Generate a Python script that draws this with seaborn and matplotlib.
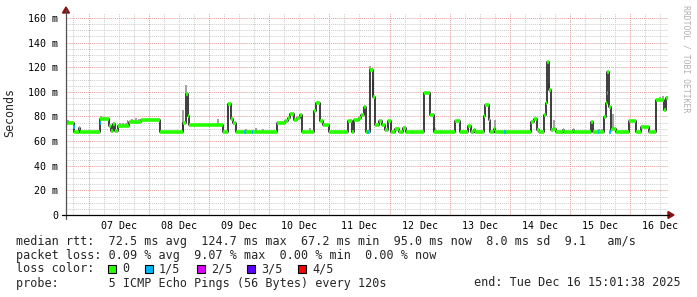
import numpy as np
import pandas as pd
import matplotlib
matplotlib.use("Agg")
import matplotlib.pyplot as plt
from matplotlib.lines import Line2D
from matplotlib.patches import Polygon, Rectangle
import seaborn as sns

# ---------------- data ----------------
# median rtt as steps: time in days since 06 Dec 00:00, value in ms
step_t = [0.626, 0.762, 0.834, 0.859, 1.188, 1.344, 1.374, 1.399, 1.433, 1.483,
          1.677, 1.865, 2.193, 2.576, 2.614, 2.647, 2.676, 3.241, 3.324, 3.371,
          3.404, 3.451, 4.128, 4.266, 4.311, 4.349, 4.406, 4.461, 4.516, 4.544,
          4.739, 4.782, 4.849, 4.894, 4.988, 5.309, 5.376, 5.414, 5.488, 5.534,
          5.571, 5.609, 5.671, 5.725, 5.764, 5.820, 5.875, 5.930, 5.970, 6.025,
          6.097, 6.153, 6.225, 6.280, 6.569, 6.669, 6.735, 7.095, 7.178, 7.306,
          7.356, 7.401, 7.423, 7.567, 7.594, 7.651, 7.677, 7.734, 7.760, 8.343,
          8.399, 8.454, 8.483, 8.566, 8.604, 8.621, 8.642, 8.676, 8.720, 8.759,
          8.887, 8.903, 9.053, 9.070, 9.341, 9.386, 9.564, 9.591, 9.619, 9.647,
          9.674, 9.702, 9.757, 9.980, 10.090, 10.173, 10.313, 10.423, 10.562, 10.589,
          10.626]
step_ms = [74.5, 67.7, 70.5, 67.7, 77.7, 72.0, 68.0, 74.0, 68.5, 72.3,
           75.8, 77.0, 67.7, 74.5, 98.5, 80.0, 73.1, 67.2, 90.0, 78.0,
           75.0, 67.7, 75.0, 76.6, 79.0, 81.8, 77.0, 79.0, 81.5, 67.7,
           84.7, 91.2, 76.0, 73.1, 67.7, 76.0, 67.7, 77.0, 78.5, 81.0,
           88.0, 67.7, 117.8, 96.0, 73.0, 76.0, 73.0, 69.0, 76.0, 67.7,
           70.0, 67.7, 71.0, 67.7, 98.8, 81.2, 67.7, 76.0, 67.7, 72.5,
           67.7, 69.0, 67.7, 80.0, 89.4, 77.2, 67.7, 70.0, 67.7, 75.9,
           77.7, 69.0, 67.7, 81.2, 90.7, 124.5, 101.5, 69.0, 70.0, 67.7,
           69.0, 67.7, 69.0, 67.7, 75.9, 67.7, 79.5, 90.7, 116.4, 88.0,
           69.0, 70.0, 67.7, 76.6, 67.7, 71.2, 67.7, 93.4, 85.3, 95.0,
           95.0]

# samples with 1/5 packet loss
loss1_t = [0.759, 1.200, 1.650, 3.600, 3.720, 5.642, 7.920, 9.476, 9.625, 9.660]
loss1_ms = [71.7, 74.5, 75.8, 67.7, 67.7, 67.7, 67.7, 67.7, 99.0, 67.7]

# smoke: spread of the individual pings (upper end)
smoke_t = [0.651, 0.684, 1.200, 1.250, 1.516, 1.566, 1.616, 1.715, 1.782, 1.832,
           2.564, 2.622, 3.146, 3.612, 3.779, 3.895, 4.677, 5.675, 5.700, 5.725,
           6.657, 6.757, 7.747, 8.646, 8.729, 9.486, 9.536, 9.711, 10.501, 10.551,
           10.617]
smoke_hi = [77.0, 76.5, 80.0, 79.5, 75.0, 75.0, 74.5, 78.0, 78.5, 78.0,
            85.0, 105.6, 77.7, 70.0, 70.5, 70.0, 70.5, 121.0, 119.0, 110.0,
            100.0, 70.5, 77.0, 107.0, 77.0, 70.0, 70.0, 82.0, 96.0, 97.0,
            97.0]

day_ticks = [1.5, 2.5, 3.5, 4.5, 5.5, 6.5, 7.5, 8.5, 9.5, 10.5]
day_labels = ["07 Dec", "08 Dec", "09 Dec", "10 Dec", "11 Dec",
              "12 Dec", "13 Dec", "14 Dec", "15 Dec", "16 Dec"]
y_ticks = [0, 20, 40, 60, 80, 100, 120, 140, 160]
y_labels = ["0", "20 m", "40 m", "60 m", "80 m", "100 m", "120 m", "140 m", "160 m"]

loss_labels = ["0", "1/5", "2/5", "3/5", "4/5"]
loss_colors = ["#26ff00", "#00b8ff", "#dd00ff", "#5e00ff", "#ff0000"]

legend_rtt = "median rtt:  72.5 ms avg  124.7 ms max  67.2 ms min  95.0 ms now  8.0 ms sd  9.1   am/s"
legend_loss = "packet loss: 0.09 % avg  9.07 % max  0.00 % min  0.00 % now"
legend_color = "loss color:"
legend_probe = "probe:       5 ICMP Echo Pings (56 Bytes) every 120s"
legend_end = "end: Tue Dec 16 15:01:38 2025"

# ---------------- figure ----------------
sns.set_theme(style="white")
plt.rcParams["font.family"] = ["DejaVu Sans Mono"]

W, H = 697, 297
fig = plt.figure(figsize=(W / 100, H / 100), dpi=100)
fig.patch.set_facecolor("white")

def fx(px):
    return px / W

def fy(py):
    return 1 - py / H

ax_l, ax_r, ax_t, ax_b = 66, 668, 13, 215
ax = fig.add_axes([fx(ax_l), fy(ax_b), (ax_r - ax_l) / W, (ax_b - ax_t) / H])
ax.set_facecolor("white")
ax.set_xlim(0.626, 10.626)
ax.set_ylim(0, 164)

# grid
for v in np.arange(5, 165, 5):
    if v % 20:
        ax.axhline(v, color="#cccccc", lw=0.7, ls=(0, (1, 1)), zorder=0)
for v in np.arange(20, 165, 20):
    ax.axhline(v, color="#e59a9a", lw=0.7, ls=(0, (1, 1)), zorder=0.5)
for d in np.arange(0.75, 10.7, 0.25):
    if abs(d - round(d)) > 1e-6:
        ax.axvline(d, color="#cccccc", lw=0.7, ls=(0, (1, 1)), zorder=0)
for d in range(1, 11):
    ax.axvline(d, color="#e59a9a", lw=0.7, ls=(0, (1, 1)), zorder=0.5)

df = pd.DataFrame({"t": step_t, "ms": step_ms})

# smoke
s_t = np.array(smoke_t)
idx = np.searchsorted(df["t"].values, s_t, side="right") - 1
s_lo = df["ms"].values[idx]
ax.vlines(s_t, s_lo, smoke_hi, colors="#9a9a9a", lw=1.3, zorder=1)

# median line (dark) through seaborn, step style
sns.lineplot(data=df, x="t", y="ms", ax=ax, color="#1e1e1e", lw=1.2,
             drawstyle="steps-post", estimator=None, sort=False, zorder=2)

# loss-coloured median segments
ax.hlines(df["ms"].values[:-1], df["t"].values[:-1], df["t"].values[1:],
          colors=loss_colors[0], lw=2.6, zorder=3)
ax.hlines(loss1_ms, np.array(loss1_t) - 0.012, np.array(loss1_t) + 0.012,
          colors=loss_colors[1], lw=2.6, zorder=4)

for s in ax.spines.values():
    s.set_visible(False)

ax.set_xticks(day_ticks)
ax.set_xticklabels(day_labels)
ax.set_yticks(y_ticks)
ax.set_yticklabels(y_labels)
ax.tick_params(axis="x", length=0, pad=4.0, labelsize=7.2, colors="#000000")
ax.tick_params(axis="y", length=0, pad=5.5, labelsize=7.2, colors="#000000")
ax.set_xlabel("")
ax.set_ylabel("")
ax.grid(False)

# axes lines and arrows
fig.add_artist(Line2D([fx(66), fx(66)], [fy(219), fy(10)], color="#505050", lw=0.9))
fig.add_artist(Line2D([fx(62), fx(669)], [fy(215), fy(215)], color="#000000", lw=0.9))
fig.add_artist(Polygon([[fx(62.5), fy(13)], [fx(69.5), fy(13)], [fx(66), fy(7)]],
                       closed=True, color="#8c1010"))
fig.add_artist(Polygon([[fx(668), fy(211.5)], [fx(668), fy(218.5)], [fx(674), fy(215)]],
                       closed=True, color="#8c1010"))

# texts
fig.text(fx(10), fy(113), "Seconds", rotation=90, ha="center", va="center", fontsize=8.4)
fig.text(fx(686), fy(5), "RRDTOOL / TOBI OETIKER", rotation=270, ha="center", va="top",
         fontsize=5.9, color="#b0b0b0")

fs = 8.5
fig.text(fx(16), fy(241), legend_rtt, ha="left", va="center", fontsize=fs)
fig.text(fx(16), fy(255), legend_loss, ha="left", va="center", fontsize=fs)
fig.text(fx(16), fy(269), legend_color, ha="left", va="center", fontsize=fs)
box_x = [108, 145, 197, 247, 298]
lab_x = [122, 159, 211, 261, 312]
for bx, lx, lab, col in zip(box_x, lab_x, loss_labels, loss_colors):
    fig.add_artist(Rectangle((fx(bx), fy(273)), 8 / W, 8 / H, facecolor=col,
                             edgecolor="#000000", lw=0.8))
    fig.text(fx(lx), fy(269), lab, ha="left", va="center", fontsize=fs)
fig.text(fx(16), fy(283), legend_probe, ha="left", va="center", fontsize=fs)
fig.text(fx(681), fy(283), legend_end, ha="right", va="center", fontsize=fs)

fig.savefig("out.png", dpi=100, facecolor="white")
